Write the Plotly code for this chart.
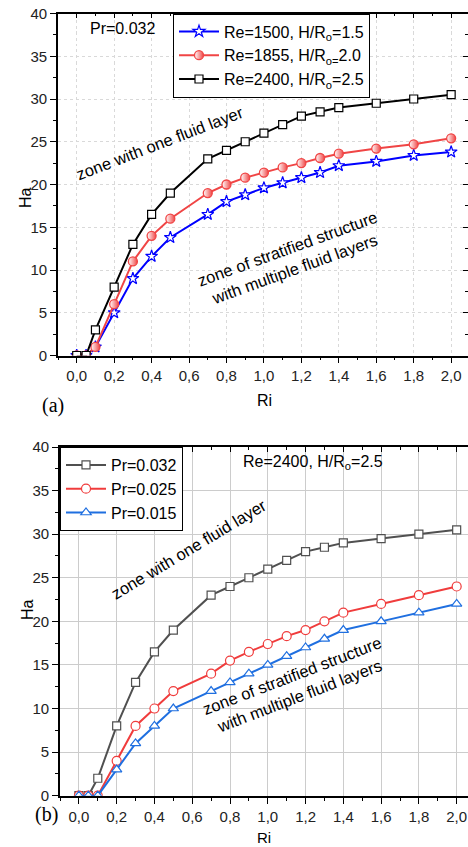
import plotly.graph_objects as go

# Richardson number sampled along the horizontal axis
ri = [0, 0.05, 0.1, 0.2, 0.3, 0.4, 0.5, 0.7, 0.8, 0.9, 1.0, 1.1, 1.2, 1.3, 1.4, 1.6, 1.8, 2.0]

# (a) Pr = 0.032, critical Hartmann number for three geometries
ha_re1500 = [0, 0, 1.0, 5.0, 9.0, 11.6, 13.8, 16.5, 18.0, 18.8, 19.6, 20.2, 20.8, 21.4, 22.2, 22.7, 23.4, 23.8]
ha_re1855 = [0, 0, 1.0, 6.0, 11.0, 14.0, 16.0, 19.0, 20.0, 20.8, 21.4, 22.0, 22.5, 23.1, 23.6, 24.2, 24.7, 25.4]
ha_re2400 = [0, 0, 3.0, 8.0, 13.0, 16.5, 19.0, 23.0, 24.0, 25.0, 26.0, 27.0, 28.0, 28.5, 29.0, 29.5, 30.0, 30.5]

# (b) Re = 2400, H/Ro = 2.5, three Prandtl numbers
ha_pr032 = [0, 0, 2.0, 8.0, 13.0, 16.5, 19.0, 23.0, 24.0, 25.0, 26.0, 27.0, 28.0, 28.5, 29.0, 29.5, 30.0, 30.5]
ha_pr025 = [0, 0, 0, 4.0, 8.0, 10.0, 12.0, 14.0, 15.5, 16.5, 17.4, 18.3, 19.0, 20.0, 21.0, 22.0, 23.0, 24.0]
ha_pr015 = [0, 0, 0, 3.0, 6.0, 8.0, 10.0, 12.0, 13.0, 14.0, 15.0, 16.0, 17.0, 18.0, 19.0, 20.0, 21.0, 22.0]

names_a = ["Re=1500, H/R<sub>o</sub>=1.5", "Re=1855, H/R<sub>o=</sub>2.0", "Re=2400, H/R<sub>o</sub>=2.5"]
names_b = ["Pr=0.032", "Pr=0.025", "Pr=0.015"]

x_ticks = [0, 0.2, 0.4, 0.6, 0.8, 1.0, 1.2, 1.4, 1.6, 1.8, 2.0]
y_ticks = [0, 5, 10, 15, 20, 25, 30, 35, 40]

FONT = "Arial, Liberation Sans, sans-serif"
SERIF = "Liberation Serif, Times New Roman, serif"
W, H = 468, 847


def px_x(p):
    return p / W


def px_y(p):
    return 1 - p / H


fig = go.Figure()

# ---- panel (a) traces
fig.add_trace(go.Scatter(
    x=ri, y=ha_re1500, name=names_a[0], mode="lines+markers",
    line=dict(color="#0000ff", width=2),
    marker=dict(symbol="star", size=9, color="white", line=dict(color="#0000ff", width=1.2)),
    xaxis="x", yaxis="y", legend="legend"))
fig.add_trace(go.Scatter(
    x=ri, y=ha_re1855, name=names_a[1], mode="lines+markers",
    line=dict(color="#f04545", width=2),
    marker=dict(symbol="circle", size=9, color="white",
                gradient=dict(type="horizontal", color="#f04545"),
                line=dict(color="#f04545", width=1.3)),
    xaxis="x", yaxis="y", legend="legend"))
fig.add_trace(go.Scatter(
    x=ri, y=ha_re2400, name=names_a[2], mode="lines+markers",
    line=dict(color="#000000", width=2),
    marker=dict(symbol="square", size=8, color="white", line=dict(color="#000000", width=1.2)),
    xaxis="x", yaxis="y", legend="legend"))

# ---- panel (b) traces
fig.add_trace(go.Scatter(
    x=ri, y=ha_pr032, name=names_b[0], mode="lines+markers",
    line=dict(color="#505050", width=2),
    marker=dict(symbol="square", size=8, color="white", line=dict(color="#505050", width=1.2)),
    xaxis="x2", yaxis="y2", legend="legend2"))
fig.add_trace(go.Scatter(
    x=ri, y=ha_pr025, name=names_b[1], mode="lines+markers",
    line=dict(color="#f03c3c", width=2),
    marker=dict(symbol="circle", size=9, color="white", line=dict(color="#f03c3c", width=1.2)),
    xaxis="x2", yaxis="y2", legend="legend2"))
fig.add_trace(go.Scatter(
    x=ri, y=ha_pr015, name=names_b[2], mode="lines+markers",
    line=dict(color="#1f6fe0", width=2),
    marker=dict(symbol="triangle-up", size=9, color="white", line=dict(color="#1f6fe0", width=1.2)),
    xaxis="x2", yaxis="y2", legend="legend2"))

tick_font = dict(family=FONT, size=15, color="#222")

dom_xa = [px_x(58), 1.0]
dom_ya = [px_y(355.5), px_y(13.5)]
dom_xb = [px_x(60), 1.0]
dom_yb = [px_y(795.7), px_y(447)]
rng_xa = [-0.1, 2.09]
rng_xb = [-0.1, 2.06]
rng_y = [0, 40]


def xbase(domain, rng, anchor, grid):
    return dict(domain=domain, range=rng, anchor=anchor, tickvals=x_ticks, tickformat=".1f",
                ticks="outside", ticklen=6, tickwidth=1.3, tickcolor="black",
                minor=dict(ticks="outside", ticklen=3, tickwidth=1.2, tickcolor="black",
                           dtick=0.1, tick0=0, showgrid=False),
                showline=True, linecolor="black", linewidth=1.6, zeroline=False,
                automargin=False, tickfont=tick_font, **grid)


def ybase(domain, anchor, grid):
    return dict(domain=domain, range=rng_y, anchor=anchor, tickvals=y_ticks,
                ticks="outside", ticklen=6, tickwidth=1.3, tickcolor="black",
                minor=dict(ticks="outside", ticklen=3, tickwidth=1.2, tickcolor="black",
                           dtick=2.5, tick0=0, showgrid=False),
                showline=True, linecolor="black", linewidth=1.6, zeroline=False,
                automargin=False, tickfont=tick_font, **grid)


grid_a = dict(showgrid=True, gridcolor="#d9d9d9", gridwidth=1, griddash="dot")
grid_b = dict(showgrid=True, gridcolor="#cccccc", gridwidth=1.2)

fig.update_layout(
    width=W, height=H,
    autosize=False,
    margin=dict(l=0, r=0, t=0, b=0, pad=0, autoexpand=False),
    paper_bgcolor="white", plot_bgcolor="white",
    separators=",.",
    font=dict(family=FONT, size=15, color="black"),
    xaxis=xbase(dom_xa, rng_xa, "y", grid_a),
    yaxis=ybase(dom_ya, "x", grid_a),
    xaxis2=xbase(dom_xb, rng_xb, "y2", grid_b),
    yaxis2=ybase(dom_yb, "x2", grid_b),
    # mirrored inward ticks on the top / right frame edges
    xaxis3=dict(overlaying="x", anchor="y", side="top", range=rng_xa, tickvals=x_ticks,
                ticks="inside", ticklen=5, tickwidth=1.3, tickcolor="black",
                minor=dict(ticks="inside", ticklen=3, tickwidth=1.2, dtick=0.1, tick0=0),
                showticklabels=False, showgrid=False, zeroline=False, automargin=False,
                showline=True, linecolor="black", linewidth=1.6),
    yaxis3=dict(overlaying="y", anchor="x", side="right", range=rng_y, tickvals=y_ticks,
                ticks="inside", ticklen=5, tickwidth=1.3, tickcolor="black",
                minor=dict(ticks="inside", ticklen=3, tickwidth=1.2, dtick=2.5, tick0=0),
                showticklabels=False, showgrid=False, zeroline=False, showline=False,
                automargin=False),
    xaxis4=dict(overlaying="x2", anchor="y2", side="top", range=rng_xb, tickvals=x_ticks,
                ticks="inside", ticklen=5, tickwidth=1.3, tickcolor="black",
                minor=dict(ticks="inside", ticklen=3, tickwidth=1.2, dtick=0.1, tick0=0),
                showticklabels=False, showgrid=False, zeroline=False, automargin=False,
                showline=True, linecolor="black", linewidth=1.6),
    legend=dict(x=px_x(173), y=px_y(13.5), xanchor="left", yanchor="top",
                bgcolor="white", bordercolor="black", borderwidth=1,
                font=dict(family=FONT, size=16, color="black"),
                itemwidth=40, tracegroupgap=0),
    legend2=dict(x=px_x(60), y=px_y(447), xanchor="left", yanchor="top",
                 bgcolor="white", bordercolor="black", borderwidth=1,
                 font=dict(family=FONT, size=16, color="black"),
                 itemwidth=40, tracegroupgap=0),
    showlegend=True,
)

# empty traces so the overlay axes are rendered
fig.add_trace(go.Scatter(x=[None], y=[None], xaxis="x3", yaxis="y3", showlegend=False, hoverinfo="skip"))
fig.add_trace(go.Scatter(x=[None], y=[None], xaxis="x4", yaxis="y2", showlegend=False, hoverinfo="skip"))

ann = []
txt = dict(family=FONT, size=16.5, color="black")
# panel (a) labels
ann.append(dict(x=0.06, y=38.2, xref="x", yref="y", text="Pr=0.032", showarrow=False,
                xanchor="left", font=dict(family=FONT, size=16)))
ann.append(dict(x=0.444, y=24.85, xref="x", yref="y", text="zone with one fluid layer",
                showarrow=False, textangle=-21, font=txt))
ann.append(dict(x=1.144, y=11.4, xref="x", yref="y",
                text="zone of stratified structure<br>with multiple fluid layers",
                showarrow=False, textangle=-20, font=txt))
# panel (b) labels
ann.append(dict(x=0.86, y=38.2, xref="x2", yref="y2", text="Re=2400, H/R<sub>o</sub>=2.5",
                showarrow=False, xanchor="left", font=dict(family=FONT, size=16)))
ann.append(dict(x=0.583, y=28.3, xref="x2", yref="y2", text="zone with one fluid layer",
                showarrow=False, textangle=-31, font=txt))
ann.append(dict(x=1.149, y=12.6, xref="x2", yref="y2",
                text="zone of stratified structure<br>with multiple fluid layers",
                showarrow=False, textangle=-21, font=txt))
# axis titles
ann.append(dict(x=px_x(264), y=px_y(401), xref="paper", yref="paper", text="Ri",
                showarrow=False, font=dict(family=FONT, size=16)))
ann.append(dict(x=px_x(264), y=0, xref="paper", yref="paper", text="Ri",
                showarrow=False, yanchor="bottom", borderpad=0, font=dict(family=FONT, size=15)))
ann.append(dict(x=px_x(15), y=px_y(185), xref="paper", yref="paper", text="Ha",
                showarrow=False, textangle=-90, font=dict(family=FONT, size=16)))
ann.append(dict(x=px_x(17), y=px_y(622), xref="paper", yref="paper", text="Ha",
                showarrow=False, textangle=-90, font=dict(family=FONT, size=16)))
# panel tags
ann.append(dict(x=px_x(40), y=px_y(405), xref="paper", yref="paper", text="(a)",
                showarrow=False, font=dict(family=SERIF, size=20)))
ann.append(dict(x=px_x(33), y=px_y(828), xref="paper", yref="paper", text="(b)",
                showarrow=False, font=dict(family=SERIF, size=20)))
fig.update_layout(annotations=ann)

fig.write_html("out.html")
